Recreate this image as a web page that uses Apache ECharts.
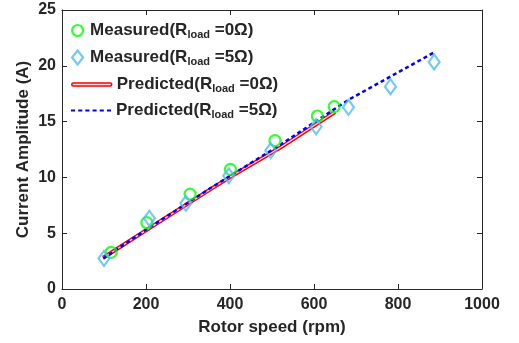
<!DOCTYPE html>
<html><head><meta charset="utf-8">
<script src="https://cdn.jsdelivr.net/npm/echarts@6/dist/echarts.min.js"></script>
<style>html,body{margin:0;padding:0;background:#fff}#c{width:519px;height:343px}</style>
</head><body><div id="c"></div>
<script>
// Measured data
const speed0 = [117, 202, 305, 401, 507, 608, 648];
const current0 = [3.29, 5.94, 8.5, 10.72, 13.29, 15.5, 16.34];
const speed5 = [100, 208, 295, 397, 497, 605, 682, 782, 886];
const current5 = [2.75, 6.33, 7.68, 10.15, 12.4, 14.55, 16.28, 18.13, 20.34];
// Predicted curves
const predSpeed0 = [98, 210, 352, 401, 519, 650];
const predCurrent0 = [2.8, 5.5, 8.9, 10.05, 12.65, 15.85];
const predSpeed5 = [98, 210, 352, 401, 519, 682, 886];
const predCurrent5 = [2.73, 5.55, 9.0, 10.15, 12.9, 16.95, 21.2];
// Axes
const xTicks = [0, 200, 400, 600, 800, 1000];
const yTicks = [0, 5, 10, 15, 20, 25];
const xTitle = 'Rotor speed (rpm)';
const yTitle = 'Current Amplitude (A)';
const legendText = {
  Measured0: '{b|Measured(R}{s|load}{b| =0Ω)}',
  Measured5: '{b|Measured(R}{s|load}{b| =5Ω)}',
  Predicted0: '{b|Predicted(R}{s|load}{b| =0Ω)}',
  Predicted5: '{b|Predicted(R}{s|load}{b| =5Ω)}'
};

const zip = (a, b) => a.map((v, i) => [v, b[i]]);
const txt = '#262626';
const font = 'Liberation Sans';
const rich = {
  b: {fontSize: 17, fontWeight: 'bold', color: txt, fontFamily: font},
  s: {fontSize: 11, fontWeight: 'bold', color: txt, fontFamily: font, padding: [9, 0, 0, 0]}
};
const legendTextStyle = (padLeft) => ({
  fontSize: 17, fontWeight: 'bold', color: txt, fontFamily: font, rich: rich, padding: [0, 0, 0, padLeft]
});
const oneLegend = (name, top, left, w, h, icon, style, padLeft) => ({
  orient: 'vertical', left: left, top: top, itemWidth: w, itemHeight: h,
  data: [{name: name, icon: icon, itemStyle: style}],
  formatter: n => legendText[n], textStyle: legendTextStyle(padLeft), selectedMode: false
});

const chart = echarts.init(document.getElementById('c'), null, {renderer: 'canvas'});
const axisCommon = {
  axisLine: {show: true, onZero: false, lineStyle: {color: txt, width: 1}},
  axisTick: {show: true, inside: true, length: 5, lineStyle: {color: txt}},
  splitLine: {show: false}
};
chart.setOption({
  animation: false,
  grid: {left: 62, right: 37, top: 10, bottom: 54, show: false},
  xAxis: [
    Object.assign({}, axisCommon, {
      type: 'value', min: xTicks[0], max: xTicks[xTicks.length - 1], interval: 200,
      position: 'bottom',
      axisLabel: {color: txt, fontSize: 16, fontWeight: 'bold', fontFamily: font, margin: 8, formatter: v => String(v)},
      name: xTitle, nameLocation: 'middle', nameGap: 30, nameMoveOverlap: false,
      nameTextStyle: {color: txt, fontSize: 17, fontWeight: 'bold', fontFamily: font}
    }),
    Object.assign({}, axisCommon, {
      type: 'value', min: xTicks[0], max: xTicks[xTicks.length - 1], interval: 200,
      position: 'top', axisLabel: {show: false}
    })
  ],
  yAxis: [
    Object.assign({}, axisCommon, {
      type: 'value', min: yTicks[0], max: yTicks[yTicks.length - 1], interval: 5,
      position: 'left',
      axisLabel: {color: txt, fontSize: 16, fontWeight: 'bold', fontFamily: font, margin: 6, formatter: v => String(v)},
      name: yTitle, nameLocation: 'middle', nameGap: 30, nameMoveOverlap: false,
      nameTextStyle: {color: txt, fontSize: 17, fontWeight: 'bold', fontFamily: font}
    }),
    Object.assign({}, axisCommon, {
      type: 'value', min: yTicks[0], max: yTicks[yTicks.length - 1], interval: 5,
      position: 'right', axisLabel: {show: false}
    })
  ],
  legend: [
    oneLegend('Measured0', 17, 66, 11, 22, 'path://M5.5,0A5.5,5.5 0 1,1 5.49,0z',
      {color: 'transparent', borderColor: '#00ff00', borderWidth: 2.2}, 2),
    oneLegend('Measured5', 44, 66, 11, 22, 'path://M5.5,0L11,7L5.5,14L0,7z',
      {color: 'transparent', borderColor: '#4dbeee', borderWidth: 2.2}, 2),
    oneLegend('Predicted0', 71, 66, 40, 22, 'path://M1.5,0h37a1.5,1.5 0 0,1 0,3h-37a1.5,1.5 0 0,1 0,-3z',
      {color: '#ffd8d8', borderColor: '#ff0000', borderWidth: 1.5}, 0),
    oneLegend('Predicted5', 97, 66, 40, 22, 'path://M0,0h4v2h-4z M7,0h4v2h-4z M14,0h4v2h-4z M21,0h4v2h-4z M28,0h4v2h-4z M35,0h4v2h-4z',
      {color: '#0000ff', borderWidth: 0}, 0)
  ],
  series: [
    {
      name: 'Predicted0', type: 'line', data: zip(predSpeed0, predCurrent0), symbol: 'none', z: 2,
      lineStyle: {color: '#ff0000', width: 4}, itemStyle: {color: '#ff0000'}
    },
    {
      name: '_p0inner', type: 'line', data: zip(predSpeed0, predCurrent0), symbol: 'none', z: 3,
      lineStyle: {color: '#ffd8d8', width: 1.2}, silent: true
    },
    {
      name: 'Predicted5', type: 'line', data: zip(predSpeed5, predCurrent5), symbol: 'none', z: 4,
      lineStyle: {color: '#0000ff', width: 2.5, type: [4, 3]}, itemStyle: {color: '#0000ff'}
    },
    {
      name: 'Measured0', type: 'scatter', data: zip(speed0, current0), symbol: 'circle', symbolSize: 11, z: 5,
      itemStyle: {color: 'transparent', borderColor: '#00ff00', borderWidth: 2.2}
    },
    {
      name: 'Measured5', type: 'scatter', data: zip(speed5, current5), symbol: 'diamond', symbolSize: [11, 15], z: 6,
      itemStyle: {color: 'transparent', borderColor: '#4dbeee', borderWidth: 2.2}
    }
  ]
});
</script></body></html>
